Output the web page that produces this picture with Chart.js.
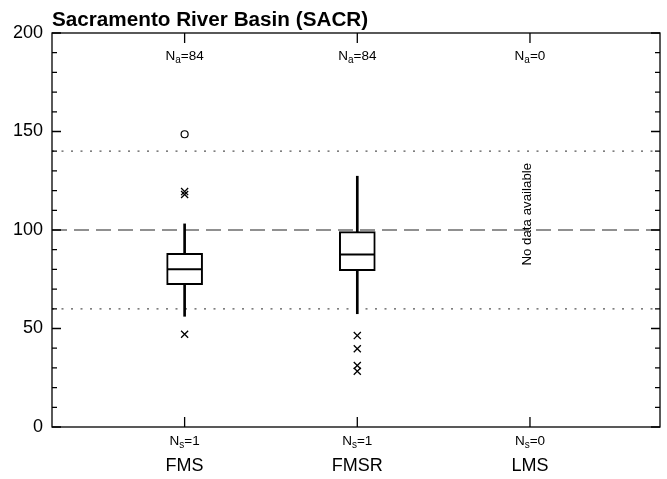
<!DOCTYPE html>
<html>
<head>
<meta charset="utf-8">
<script src="https://cdn.jsdelivr.net/npm/chart.js@4.4.1/dist/chart.umd.min.js"></script>
<style>
  html, body { margin: 0; padding: 0; background: #fff; }
  #wrap { width: 667px; height: 479px; }
</style>
</head>
<body>
<div id="wrap"><canvas id="boxChart"></canvas></div>
<script>
const FONT = "'Liberation Sans', Arial, sans-serif";

const title = "Sacramento River Basin (SACR)";
const categories = ["FMS", "FMSR", "LMS"];
const nAnalyses = [84, 84, 0];
const nSites = [1, 1, 0];

// box statistics per category (null = no data)
const whiskerLow = [56.2, 57.5, null];
const q1 = [72.3, 79.3, null];
const median = [80.1, 87.6, null];
const q3 = [88.2, 99.2, null];
const whiskerHigh = [103.1, 127.3, null];

// outliers
const crossOutliers = [[118, 119.5, 47.1], [46.4, 39.7, 31.2, 28.3], []];
const circleOutliers = [[148.6], [], []];

const dashedRef = 100;
const dottedRefs = [60, 140];
const yTicks = [0, 50, 100, 150, 200];

const xMin = 0.232, xMax = 3.753;

const boxData = [], whiskerData = [], medianData = [], crossData = [], circleData = [];
categories.forEach((c, i) => {
  if (q1[i] != null) {
    boxData.push({ x: i + 1, y: [q1[i], q3[i]] });
    whiskerData.push({ x: i + 1, y: [whiskerLow[i], whiskerHigh[i]] });
    medianData.push({ x: i + 1, y: median[i] });
  }
  crossOutliers[i].forEach(v => crossData.push({ x: i + 1, y: v }));
  circleOutliers[i].forEach(v => circleData.push({ x: i + 1, y: v }));
});

function refLine(v, dash, color) {
  return {
    type: "line",
    data: [{ x: xMin, y: v }, { x: xMax, y: v }],
    borderColor: color,
    borderWidth: 1.2,
    borderDash: dash,
    pointRadius: 0,
    order: 10
  };
}

function drawN(ctx, sub, value, cx, baseline) {
  ctx.font = "13.5px " + FONT;
  const wN = ctx.measureText("N").width;
  const wRest = ctx.measureText("=" + value).width;
  ctx.font = "10px " + FONT;
  const wSub = ctx.measureText(sub).width;
  let x0 = cx - (wN + wSub + wRest) / 2;
  ctx.textAlign = "left";
  ctx.textBaseline = "alphabetic";
  ctx.font = "13.5px " + FONT;
  ctx.fillText("N", x0, baseline);
  ctx.font = "10px " + FONT;
  ctx.fillText(sub, x0 + wN, baseline + 3);
  ctx.font = "13.5px " + FONT;
  ctx.fillText("=" + value, x0 + wN + wSub, baseline);
}

const framePlugin = {
  id: "frame",
  afterDatasetsDraw(chart) {
    const { ctx, chartArea: a, scales: { x, y } } = chart;
    ctx.save();
    ctx.strokeStyle = "#000";
    ctx.lineWidth = 1.3;
    ctx.strokeRect(a.left, a.top, a.right - a.left, a.bottom - a.top);
    ctx.beginPath();
    for (let v = 0; v <= 200; v += 10) {
      const py = y.getPixelForValue(v);
      const len = v % 50 === 0 ? 9 : 5;
      ctx.moveTo(a.left, py); ctx.lineTo(a.left + len, py);
      ctx.moveTo(a.right, py); ctx.lineTo(a.right - len, py);
    }
    categories.forEach((c, i) => {
      const px = x.getPixelForValue(i + 1);
      ctx.moveTo(px, a.top); ctx.lineTo(px, a.top + 10);
      ctx.moveTo(px, a.bottom); ctx.lineTo(px, a.bottom - 10);
    });
    ctx.stroke();

    ctx.fillStyle = "#000";
    categories.forEach((c, i) => {
      const px = x.getPixelForValue(i + 1);
      drawN(ctx, "a", nAnalyses[i], px, a.top + 27);
      drawN(ctx, "s", nSites[i], px, a.bottom + 18);
      if (q1[i] == null) {
        ctx.save();
        ctx.translate(px - 3, y.getPixelForValue(108));
        ctx.rotate(-Math.PI / 2);
        ctx.font = "13.3px " + FONT;
        ctx.textAlign = "center";
        ctx.textBaseline = "middle";
        ctx.fillText("No data available", 0, 0);
        ctx.restore();
      }
    });

    ctx.font = "bold 20.7px " + FONT;
    ctx.textAlign = "left";
    ctx.textBaseline = "alphabetic";
    ctx.fillText(title, a.left, 26);
    ctx.restore();
  }
};

new Chart(document.getElementById("boxChart"), {
  type: "bar",
  data: {
    datasets: [
      refLine(dashedRef, [15, 7], "#222"),
      ...dottedRefs.map(v => refLine(v, [2, 7.5], "#555")),
      {
        type: "bar",
        data: whiskerData,
        backgroundColor: "#000",
        borderWidth: 0,
        barThickness: 2,
        grouped: false,
        order: 5
      },
      {
        type: "bar",
        data: boxData,
        backgroundColor: "#fff",
        borderColor: "#000",
        borderWidth: 2,
        borderSkipped: false,
        barThickness: 36,
        grouped: false,
        order: 4
      },
      {
        type: "scatter",
        data: medianData,
        pointStyle: "line",
        pointRadius: 17,
        borderColor: "#000",
        borderWidth: 2,
        order: 3
      },
      {
        type: "scatter",
        data: crossData,
        pointStyle: "crossRot",
        pointRadius: 5,
        borderColor: "#000",
        borderWidth: 1.3,
        order: 2
      },
      {
        type: "scatter",
        data: circleData,
        pointStyle: "circle",
        pointRadius: 3.5,
        backgroundColor: "#fff",
        borderColor: "#000",
        borderWidth: 1.2,
        order: 1
      }
    ]
  },
  options: {
    responsive: true,
    maintainAspectRatio: false,
    animation: false,
    layout: { autoPadding: false, padding: { top: 33, right: 7, left: 0, bottom: 0 } },
    plugins: { legend: { display: false }, tooltip: { enabled: false } },
    scales: {
      x: {
        type: "linear",
        offset: false,
        min: xMin,
        max: xMax,
        grid: { display: false, offset: false },
        border: { display: false },
        afterBuildTicks: s => { s.ticks = categories.map((c, i) => ({ value: i + 1 })); },
        afterFit: s => { s.height = 52; s.paddingLeft = 0; s.paddingRight = 0; },
        ticks: {
          padding: 20,
          color: "#000",
          font: { family: FONT, size: 18 },
          maxRotation: 0,
          callback: v => categories[v - 1] ?? ""
        }
      },
      y: {
        min: 0,
        max: 200,
        grid: { display: false, drawTicks: false },
        border: { display: false },
        afterBuildTicks: s => { s.ticks = yTicks.map(v => ({ value: v })); },
        afterFit: s => { s.width = 52; },
        ticks: {
          padding: 9,
          color: "#000",
          font: { family: FONT, size: 18 }
        }
      }
    }
  },
  plugins: [framePlugin]
});
</script>
</body>
</html>
